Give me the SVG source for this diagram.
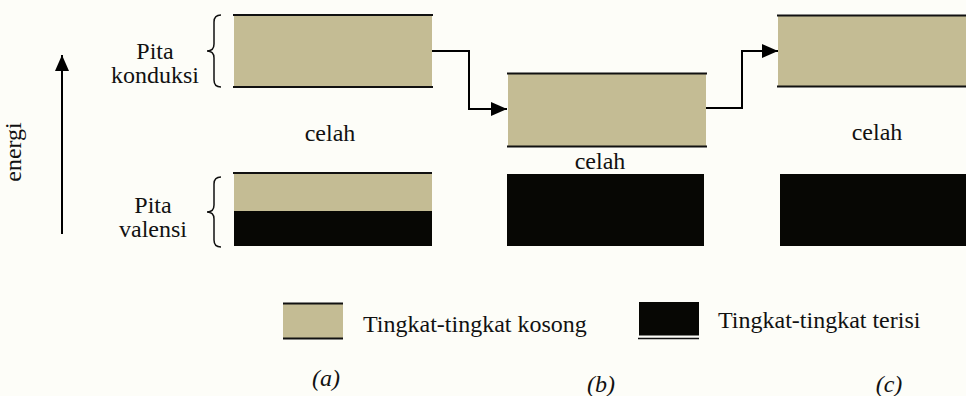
<svg xmlns="http://www.w3.org/2000/svg" width="966" height="396" viewBox="0 0 966 396">
  <style>
    text { font-family: "Liberation Serif", "Times New Roman", serif; font-size: 24px; fill: #111; }
    .it { font-style: italic; }
    .empty { fill: #c4bc94; }
    .full { fill: #070704; }
    .edge { stroke: #111; stroke-width: 2; fill: none; }
    .brace { stroke: #111; stroke-width: 1.5; fill: none; }
    .wire { stroke: #000; stroke-width: 2; fill: none; }
  </style>
  <defs>
    <marker id="tip" viewBox="0 0 16 14" refX="16" refY="7" markerWidth="16" markerHeight="14" markerUnits="userSpaceOnUse" orient="auto">
      <path d="M0,0 L16,7 L0,14 Z" fill="#000"/>
    </marker>
  </defs>

  <rect width="966" height="396" fill="#fdfdf8"/>

  <!-- energy axis -->
  <g id="energy-axis">
    <line x1="62" y1="234" x2="62" y2="55" class="wire" marker-end="url(#tip)"/>
    <text transform="translate(21,152) rotate(-90)" text-anchor="middle">energi</text>
  </g>

  <!-- band labels with braces -->
  <g id="label-conduction">
    <text x="155" y="59" text-anchor="middle">Pita</text>
    <text x="155" y="83" text-anchor="middle">konduksi</text>
    <path class="brace" d="M221,15 Q214,15 214,22 L214,44 Q214,51 207,51 Q214,51 214,58 L214,80 Q214,87 221,87"/>
  </g>
  <g id="label-valence">
    <text x="153" y="213" text-anchor="middle">Pita</text>
    <text x="153" y="237" text-anchor="middle">valensi</text>
    <path class="brace" d="M221,177 Q214,177 214,184 L214,205 Q214,212 207,212 Q214,212 214,219 L214,240 Q214,247 221,247"/>
  </g>

  <!-- (a) conductor -->
  <g id="conduction-a">
    <rect class="empty" x="234" y="15" width="198" height="72"/>
    <line class="edge" x1="233" y1="15" x2="433" y2="15"/>
    <line class="edge" x1="233" y1="87" x2="433" y2="87"/>
  </g>
  <g id="gap-a"><text x="330" y="141" text-anchor="middle">celah</text></g>
  <g id="valence-a">
    <rect class="empty" x="234" y="173" width="198" height="38"/>
    <rect class="full" x="234" y="211" width="198" height="35"/>
    <line class="edge" x1="233" y1="173" x2="432" y2="173"/>
  </g>

  <!-- (b) semiconductor -->
  <g id="conduction-b">
    <rect class="empty" x="508" y="73" width="198" height="74"/>
    <line class="edge" x1="507" y1="73.5" x2="707" y2="73.5"/>
    <line class="edge" x1="507" y1="146.5" x2="707" y2="146.5"/>
  </g>
  <g id="gap-b"><text x="600" y="169" text-anchor="middle">celah</text></g>
  <g id="valence-b">
    <rect class="full" x="507" y="174" width="197" height="72"/>
  </g>

  <!-- (c) insulator -->
  <g id="conduction-c">
    <rect class="empty" x="778" y="15" width="188" height="72"/>
    <line class="edge" x1="777" y1="15.5" x2="966" y2="15.5"/>
    <line class="edge" x1="777" y1="86.5" x2="966" y2="86.5"/>
  </g>
  <g id="gap-c"><text x="877" y="140" text-anchor="middle">celah</text></g>
  <g id="valence-c">
    <rect class="full" x="780" y="174" width="186" height="72"/>
  </g>

  <!-- connectors -->
  <g id="connectors">
    <polyline class="wire" points="432,51 469,51 469,109 507,109" marker-end="url(#tip)"/>
    <polyline class="wire" points="706,108 742,108 742,51 778,51" marker-end="url(#tip)"/>
  </g>

  <!-- legend -->
  <g id="legend-empty">
    <rect class="empty" x="283" y="304" width="60" height="34"/>
    <line class="edge" x1="283" y1="303.5" x2="343" y2="303.5"/>
    <line class="edge" x1="283" y1="338.5" x2="343" y2="338.5"/>
    <text x="363" y="332">Tingkat-tingkat kosong</text>
  </g>
  <g id="legend-full">
    <rect class="full" x="639" y="302" width="60" height="33.5"/>
    <line stroke="#111" stroke-width="1.5" x1="638" y1="338.5" x2="699" y2="338.5"/>
    <text x="718" y="328">Tingkat-tingkat terisi</text>
  </g>

  <!-- panel captions -->
  <g id="caption-a"><text class="it" x="326" y="386" text-anchor="middle">(a)</text></g>
  <g id="caption-b"><text class="it" x="601" y="392" text-anchor="middle">(b)</text></g>
  <g id="caption-c"><text class="it" x="889" y="392" text-anchor="middle">(c)</text></g>
</svg>
